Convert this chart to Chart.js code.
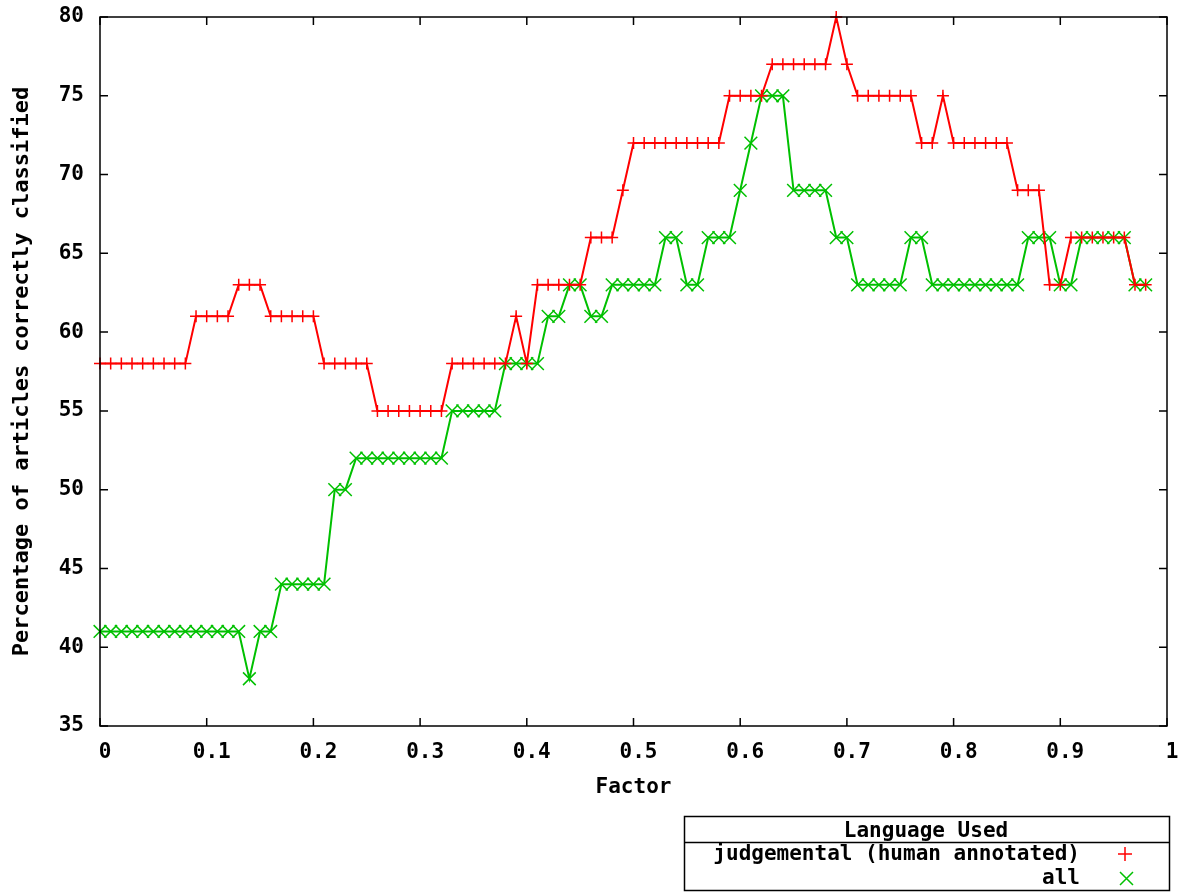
<!DOCTYPE html>
<html>
<head>
<meta charset="utf-8">
<title>Percentage of articles correctly classified</title>
<script src="https://cdn.jsdelivr.net/npm/chart.js@4.4.1/dist/chart.umd.min.js"></script>
<style>
  html, body { margin: 0; padding: 0; background: #fff; }
  #chart { display: block; }
</style>
</head>
<body>
<canvas id="chart" width="1187" height="892"></canvas>
<script>
// x values (Factor)
const factor = [
  0.00, 0.01, 0.02, 0.03, 0.04, 0.05, 0.06, 0.07, 0.08, 0.09,
  0.10, 0.11, 0.12, 0.13, 0.14, 0.15, 0.16, 0.17, 0.18, 0.19,
  0.20, 0.21, 0.22, 0.23, 0.24, 0.25, 0.26, 0.27, 0.28, 0.29,
  0.30, 0.31, 0.32, 0.33, 0.34, 0.35, 0.36, 0.37, 0.38, 0.39,
  0.40, 0.41, 0.42, 0.43, 0.44, 0.45, 0.46, 0.47, 0.48, 0.49,
  0.50, 0.51, 0.52, 0.53, 0.54, 0.55, 0.56, 0.57, 0.58, 0.59,
  0.60, 0.61, 0.62, 0.63, 0.64, 0.65, 0.66, 0.67, 0.68, 0.69,
  0.70, 0.71, 0.72, 0.73, 0.74, 0.75, 0.76, 0.77, 0.78, 0.79,
  0.80, 0.81, 0.82, 0.83, 0.84, 0.85, 0.86, 0.87, 0.88, 0.89,
  0.90, 0.91, 0.92, 0.93, 0.94, 0.95, 0.96, 0.97, 0.98
];

// judgemental (human annotated)
const judgemental = [
  58, 58, 58, 58, 58, 58, 58, 58, 58, 61,
  61, 61, 61, 63, 63, 63, 61, 61, 61, 61,
  61, 58, 58, 58, 58, 58, 55, 55, 55, 55,
  55, 55, 55, 58, 58, 58, 58, 58, 58, 61,
  58, 63, 63, 63, 63, 63, 66, 66, 66, 69,
  72, 72, 72, 72, 72, 72, 72, 72, 72, 75,
  75, 75, 75, 77, 77, 77, 77, 77, 77, 80,
  77, 75, 75, 75, 75, 75, 75, 72, 72, 75,
  72, 72, 72, 72, 72, 72, 69, 69, 69, 63,
  63, 66, 66, 66, 66, 66, 66, 63, 63
];

// all
const allLang = [
  41, 41, 41, 41, 41, 41, 41, 41, 41, 41,
  41, 41, 41, 41, 38, 41, 41, 44, 44, 44,
  44, 44, 50, 50, 52, 52, 52, 52, 52, 52,
  52, 52, 52, 55, 55, 55, 55, 55, 58, 58,
  58, 58, 61, 61, 63, 63, 61, 61, 63, 63,
  63, 63, 63, 66, 66, 63, 63, 66, 66, 66,
  69, 72, 75, 75, 75, 69, 69, 69, 69, 66,
  66, 63, 63, 63, 63, 63, 66, 66, 63, 63,
  63, 63, 63, 63, 63, 63, 63, 66, 66, 66,
  63, 63, 66, 66, 66, 66, 66, 63, 63
];

const xTicks = [0, 0.1, 0.2, 0.3, 0.4, 0.5, 0.6, 0.7, 0.8, 0.9, 1];
const yTicks = [35, 40, 45, 50, 55, 60, 65, 70, 75, 80];

const legendTitle = 'Language Used';
const seriesNames = ['judgemental (human annotated)', 'all'];

const RED = '#ff0000';
const GREEN = '#00c000';
const FONT = '"DejaVu Sans Mono", monospace';

const toPoints = values => values.map((v, i) => ({ x: factor[i], y: v }));

// Frame with inward ticks (gnuplot style) and the boxed legend
const gnuplotFrame = {
    id: 'gnuplotFrame',
    afterDatasetsDraw(chart) {
        const { ctx, chartArea: a, scales } = chart;
        const len = 8;
        ctx.save();
        ctx.strokeStyle = '#000';
        ctx.lineWidth = 1.5;
        ctx.strokeRect(a.left, a.top, a.right - a.left, a.bottom - a.top);
        ctx.beginPath();
        yTicks.forEach(v => {
            const y = scales.y.getPixelForValue(v);
            ctx.moveTo(a.left, y); ctx.lineTo(a.left + len, y);
            ctx.moveTo(a.right, y); ctx.lineTo(a.right - len, y);
        });
        xTicks.forEach(v => {
            const x = scales.x.getPixelForValue(v);
            ctx.moveTo(x, a.bottom); ctx.lineTo(x, a.bottom - len);
            ctx.moveTo(x, a.top); ctx.lineTo(x, a.top + len);
        });
        ctx.stroke();
        ctx.restore();
    },
    afterDraw(chart) {
        const ctx = chart.ctx;
        const box = { left: 684.5, right: 1169.5, top: 816.5, sep: 842.5, bottom: 890.5 };
        ctx.save();
        ctx.strokeStyle = '#000';
        ctx.lineWidth = 1.5;
        ctx.strokeRect(box.left, box.top, box.right - box.left, box.bottom - box.top);
        ctx.beginPath();
        ctx.moveTo(box.left, box.sep);
        ctx.lineTo(box.right, box.sep);
        ctx.stroke();

        ctx.fillStyle = '#000';
        ctx.font = 'bold 21px ' + FONT;
        ctx.textBaseline = 'middle';
        ctx.textAlign = 'center';
        ctx.fillText(legendTitle, 926, 832);
        ctx.textAlign = 'right';
        ctx.fillText(seriesNames[0], 1080, 855);
        ctx.fillText(seriesNames[1], 1080, 879);

        // markers
        ctx.lineWidth = 1.5;
        ctx.strokeStyle = RED;
        ctx.beginPath();
        ctx.moveTo(1118, 854); ctx.lineTo(1132, 854);
        ctx.moveTo(1125, 847); ctx.lineTo(1125, 861);
        ctx.stroke();
        ctx.strokeStyle = GREEN;
        ctx.beginPath();
        ctx.moveTo(1120, 872); ctx.lineTo(1133, 885);
        ctx.moveTo(1133, 872); ctx.lineTo(1120, 885);
        ctx.stroke();
        ctx.restore();
    }
};

new Chart(document.getElementById('chart'), {
    type: 'line',
    data: {
        datasets: [
            {
                label: seriesNames[0],
                data: toPoints(judgemental),
                borderColor: RED,
                backgroundColor: RED,
                borderWidth: 2,
                pointStyle: 'cross',
                pointRadius: 6,
                pointBorderWidth: 1.5,
                pointBorderColor: RED,
                tension: 0,
                clip: false
            },
            {
                label: seriesNames[1],
                data: toPoints(allLang),
                borderColor: GREEN,
                backgroundColor: GREEN,
                borderWidth: 2,
                pointStyle: 'crossRot',
                pointRadius: 9,
                pointBorderWidth: 1.5,
                pointBorderColor: GREEN,
                tension: 0,
                clip: false
            }
        ]
    },
    options: {
        responsive: false,
        animation: false,
        events: [],
        layout: { padding: { left: 0, top: 17, right: 20, bottom: 92 } },
        plugins: {
            legend: { display: false },
            tooltip: { enabled: false }
        },
        scales: {
            x: {
                type: 'linear',
                min: 0,
                max: 1,
                afterFit: s => {
                    s.height = 74;
                    s.paddingLeft = 0;
                    s.paddingRight = 0;
                },
                afterBuildTicks: s => { s.ticks = xTicks.map(v => ({ value: v })); },
                grid: { display: false, drawTicks: false },
                border: { display: false },
                ticks: {
                    padding: 14,
                    labelOffset: 5,
                    color: '#000',
                    font: { family: FONT, size: 21, weight: 'bold' },
                    callback: v => String(Math.round(v * 10) / 10)
                },
                title: {
                    display: true,
                    text: 'Factor',
                    color: '#000',
                    padding: { top: 0, bottom: 0 },
                    font: { family: FONT, size: 21, weight: 'bold' }
                }
            },
            y: {
                min: 35,
                max: 80,
                afterFit: s => {
                    s.width = 100;
                    s.paddingTop = 0;
                    s.paddingBottom = 0;
                },
                afterBuildTicks: s => { s.ticks = yTicks.map(v => ({ value: v })); },
                grid: { display: false, drawTicks: false },
                border: { display: false },
                ticks: {
                    padding: 16,
                    color: '#000',
                    font: { family: FONT, size: 21, weight: 'bold' }
                },
                title: {
                    display: true,
                    text: 'Percentage of articles correctly classified',
                    color: '#000',
                    padding: { top: 9, bottom: 0 },
                    font: { family: FONT, size: 22, weight: 'bold' }
                }
            }
        }
    },
    plugins: [gnuplotFrame]
});
</script>
</body>
</html>
